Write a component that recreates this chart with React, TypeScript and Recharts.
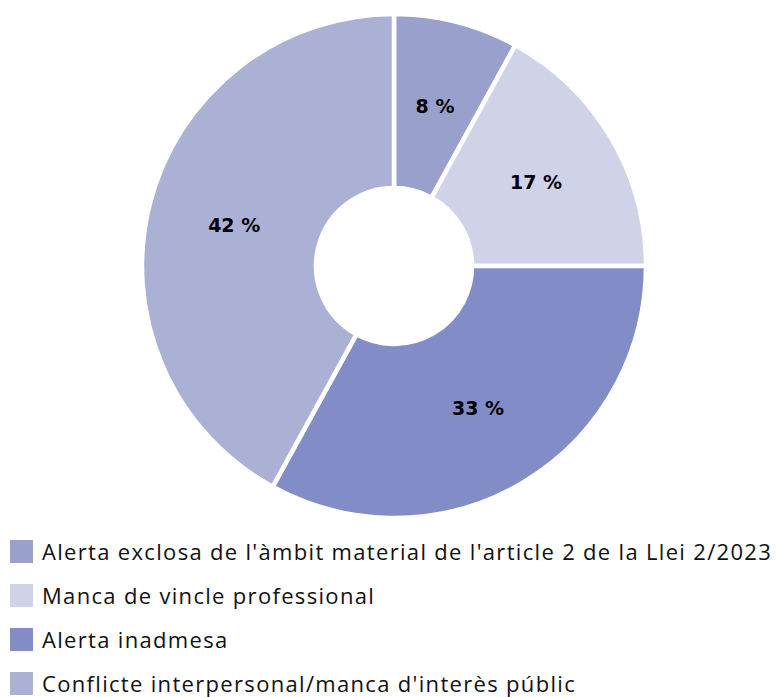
import React from 'react'
import { PieChart, Pie, Cell } from 'recharts'

const categories = [
  "Alerta exclosa de l'àmbit material de l'article 2 de la Llei 2/2023",
  'Manca de vincle professional',
  'Alerta inadmesa',
  "Conflicte interpersonal/manca d'interès públic",
]
const shares = [8, 17, 33, 42]
const colors = ['#9aa0cc', '#d0d2e8', '#828cc7', '#abb0d5']

const data = categories.map((name, i) => ({ name, value: shares[i] }))

const RAD = Math.PI / 180

// percentage label centred in the ring
const renderLabel = (props: any) => {
  const { cx, cy, midAngle, innerRadius, outerRadius, value } = props
  const r = (innerRadius + outerRadius) / 2
  const x = cx + r * Math.cos(-midAngle * RAD)
  const y = cy + r * Math.sin(-midAngle * RAD)
  return (
    <text
      x={x}
      y={y}
      textAnchor="middle"
      dominantBaseline="central"
      fill="#000"
      style={{ fontFamily: '"DejaVu Sans", sans-serif', fontWeight: 700, fontSize: 19 }}
    >
      {`${value} %`}
    </text>
  )
}

export default function App() {
  return (
    <div style={{ position: 'absolute', left: 0, top: 0, width: 776, height: 697, background: '#fff' }}>
      <PieChart width={776} height={530} margin={{ top: 0, right: 0, bottom: 0, left: 0 }}>
        <Pie
          data={data}
          dataKey="value"
          nameKey="name"
          cx={394}
          cy={266}
          innerRadius={78}
          outerRadius={252}
          startAngle={90}
          endAngle={-270}
          stroke="#fff"
          strokeWidth={4.5}
          label={renderLabel}
          labelLine={false}
          isAnimationActive={false}
        >
          {data.map((entry, index) => (
            <Cell key={`cell-${index}`} fill={colors[index]} />
          ))}
        </Pie>
      </PieChart>

      <div style={{ position: 'absolute', left: 10, top: 529 }}>
        {data.map((entry, index) => (
          <div key={entry.name} style={{ display: 'flex', alignItems: 'center', height: 44 }}>
            <div style={{ width: 23, height: 23, background: colors[index], marginRight: 9 }} />
            <span
              style={{
                fontFamily: '"Open Sans", sans-serif',
                fontSize: 22,
                letterSpacing: 1.32,
                color: '#111',
                whiteSpace: 'nowrap',
              }}
            >
              {entry.name}
            </span>
          </div>
        ))}
      </div>
    </div>
  )
}
